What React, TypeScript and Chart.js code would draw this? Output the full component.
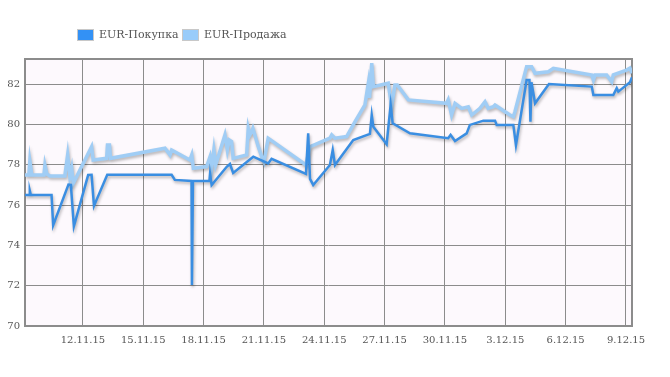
import React, { useEffect, useRef } from "react";
import { Chart, registerables } from "chart.js";

Chart.register(...registerables);

// x = day number counted from 1 Nov 2015 (December days = 30 + day)
const buyX = [9.12, 9.34, 9.36, 9.41, 10.44, 10.52, 11.28, 11.4, 11.55, 12.26, 12.43, 12.55, 13.21, 16.41, 16.57, 17.4, 17.42, 17.47, 18.29, 18.32, 18.4, 19.15, 19.31, 19.47, 20.47, 21.21, 21.38, 23.09, 23.2, 23.29, 23.45, 24.28, 24.42, 24.53, 25.44, 26.27, 26.36, 26.44, 27.1, 27.3, 27.4, 28.26, 30.16, 30.28, 30.5, 31.08, 31.24, 31.91, 32.49, 32.57, 33.4, 33.53, 34.06, 34.2, 34.25, 34.3, 34.48, 35.17, 37.3, 37.38, 38.37, 38.54, 38.62, 39.2, 39.3];
const buyY = [76.5, 76.5, 76.71, 76.5, 76.5, 75.0, 77.02, 77.0, 74.95, 77.49, 77.5, 75.96, 77.5, 77.5, 77.25, 77.2, 72.03, 77.2, 77.2, 77.55, 77.0, 77.9, 78.04, 77.6, 78.4, 78.07, 78.3, 77.55, 79.56, 77.3, 77.0, 77.99, 78.73, 77.99, 79.23, 79.53, 80.47, 79.89, 79.02, 80.97, 80.06, 79.56, 79.32, 79.48, 79.18, 79.56, 79.98, 80.19, 80.19, 79.98, 79.98, 78.98, 82.21, 82.21, 80.14, 82.1, 81.05, 82.01, 81.88, 81.46, 81.46, 81.8, 81.63, 82.1, 82.35];

const sellX = [9.12, 9.31, 9.36, 9.46, 10.06, 10.11, 10.21, 10.36, 11.1, 11.24, 11.35, 11.44, 11.52, 12.43, 12.51, 13.18, 13.22, 13.32, 13.37, 16.08, 16.33, 16.41, 17.32, 17.41, 17.49, 18.15, 18.32, 18.4, 18.51, 18.6, 19.06, 19.18, 19.27, 19.39, 19.47, 20.14, 20.22, 20.3, 20.39, 20.45, 20.72, 20.89, 21.0, 21.21, 23.09, 23.29, 24.28, 24.37, 24.53, 25.11, 25.53, 26.02, 26.19, 26.25, 26.36, 26.44, 27.18, 27.35, 27.51, 27.63, 28.18, 30.08, 30.16, 30.33, 30.5, 30.83, 31.16, 31.33, 31.74, 31.99, 32.15, 32.4, 32.49, 33.23, 33.4, 33.48, 34.06, 34.31, 34.48, 35.14, 35.39, 37.3, 37.38, 37.46, 38.04, 38.29, 38.37, 39.03, 39.2, 39.3];
const sellY = [77.49, 77.49, 78.19, 77.49, 77.49, 77.99, 77.54, 77.44, 77.44, 78.49, 77.41, 77.83, 77.08, 78.9, 78.24, 78.32, 78.98, 78.98, 78.32, 78.82, 78.49, 78.73, 78.24, 78.49, 77.83, 77.91, 78.4, 77.83, 78.73, 77.99, 79.48, 78.73, 79.23, 79.15, 78.32, 78.49, 79.81, 79.48, 79.64, 79.81, 78.9, 78.4, 78.14, 79.32, 77.99, 78.9, 79.32, 79.48, 79.32, 79.4, 80.14, 80.97, 82.05, 81.32, 83.04, 81.88, 82.05, 80.89, 81.96, 81.96, 81.22, 81.05, 81.22, 80.47, 81.05, 80.8, 80.88, 80.47, 80.8, 81.13, 80.8, 80.88, 80.97, 80.47, 80.39, 80.63, 82.87, 82.87, 82.54, 82.62, 82.79, 82.46, 82.21, 82.46, 82.46, 82.12, 82.46, 82.7, 82.8, 82.54];

const seriesNames = ["EUR-Покупка", "EUR-Продажа"];
const lineColors = ["rgb(58,142,226)", "rgb(160,205,245)"];
const boxColors = ["rgb(51,145,245)", "rgb(153,204,250)"];
const xTickDays = [12, 15, 18, 21, 24, 27, 30, 33, 36, 39];
const yTicks = [70, 72, 74, 76, 78, 80, 82];

const FONT = "'DejaVu Serif', serif";

function dayLabel(v: number): string {
  const d = Math.round(v);
  return d <= 30 ? `${d}.11.15` : `${d - 30}.12.15`;
}

export default function App() {
  const ref = useRef<HTMLCanvasElement | null>(null);

  useEffect(() => {
    const canvas = ref.current;
    if (!canvas) return;

    const plotPlugin = {
      id: "plotDecor",
      beforeDraw(chart: any) {
        const { ctx, chartArea: a } = chart;
        ctx.save();
        ctx.fillStyle = "rgb(253,249,253)";
        ctx.fillRect(a.left, a.top, a.right - a.left, a.bottom - a.top);
        ctx.restore();
      },
      beforeDatasetsDraw(chart: any) {
        const { ctx, chartArea: a } = chart;
        ctx.save();
        ctx.strokeStyle = "rgb(140,140,140)";
        ctx.lineWidth = 2;
        ctx.strokeRect(a.left, a.top, a.right - a.left, a.bottom - a.top);
        ctx.restore();
      },
      beforeDatasetDraw(chart: any) {
        const ctx = chart.ctx;
        ctx.save();
        ctx.shadowColor = "rgba(0,0,0,0.28)";
        ctx.shadowBlur = 3;
        ctx.shadowOffsetX = 1;
        ctx.shadowOffsetY = 2;
      },
      afterDatasetDraw(chart: any) {
        chart.ctx.restore();
      },
      afterDraw(chart: any) {
        const ctx = chart.ctx;
        ctx.save();
        ctx.font = `11px ${FONT}`;
        ctx.textBaseline = "middle";
        const boxX = [78, 183];
        seriesNames.forEach((name, i) => {
          const x = boxX[i];
          ctx.fillStyle = boxColors[i];
          ctx.fillRect(x, 30, 15, 10);
          ctx.strokeStyle = "rgba(200,200,200,1)";
          ctx.lineWidth = 1;
          ctx.strokeRect(x - 0.5, 29.5, 16, 11);
          ctx.fillStyle = "#555";
          ctx.fillText(name, x + 21, 35.5);
        });
        ctx.restore();
      },
    };

    const chart = new Chart(canvas, {
      type: "line",
      data: {
        datasets: [
          {
            label: seriesNames[0],
            data: buyX.map((x, i) => ({ x, y: buyY[i] })),
            borderColor: lineColors[0],
            backgroundColor: lineColors[0],
            borderWidth: 2.5,
            pointRadius: 0,
            tension: 0,
            fill: false,
            order: 0,
          },
          {
            label: seriesNames[1],
            data: sellX.map((x, i) => ({ x, y: sellY[i] })),
            borderColor: lineColors[1],
            backgroundColor: lineColors[1],
            borderWidth: 3.5,
            pointRadius: 0,
            tension: 0,
            fill: false,
            order: 1,
          },
        ],
      },
      options: {
        animation: false,
        responsive: false,
        maintainAspectRatio: false,
        layout: { padding: { top: 59, right: 38, bottom: 0, left: 0 } },
        plugins: {
          legend: { display: false },
          tooltip: { enabled: false },
        },
        scales: {
          x: {
            type: "linear",
            min: 9.12,
            max: 39.3,
            afterBuildTicks(scale: any) {
              scale.ticks = xTickDays.map((v) => ({ value: v }));
            },
            afterFit(scale: any) {
              scale.height = 51;
            },
            grid: { color: "rgb(140,140,140)", lineWidth: 1, drawTicks: false },
            border: { display: false },
            ticks: {
              padding: 8,
              maxRotation: 0,
              autoSkip: false,
              color: "#555",
              font: { family: FONT, size: 10 },
              callback: (v: any) => dayLabel(Number(v)),
            },
          },
          y: {
            type: "linear",
            min: 70,
            max: 83.25,
            afterBuildTicks(scale: any) {
              scale.ticks = yTicks.map((v) => ({ value: v }));
            },
            afterFit(scale: any) {
              scale.width = 25;
            },
            grid: { color: "rgb(140,140,140)", lineWidth: 1, drawTicks: false },
            border: { display: false },
            ticks: {
              padding: 5,
              color: "#555",
              font: { family: FONT, size: 10 },
              callback: (v: any) => String(v),
            },
          },
        },
      },
      plugins: [plotPlugin],
    } as any);

    return () => chart.destroy();
  }, []);

  return (
    <div style={{ position: "absolute", left: 0, top: 0, width: 670, height: 377, background: "#fff" }}>
      <canvas ref={ref} width={670} height={377} style={{ display: "block", width: 670, height: 377 }} />
    </div>
  );
}
